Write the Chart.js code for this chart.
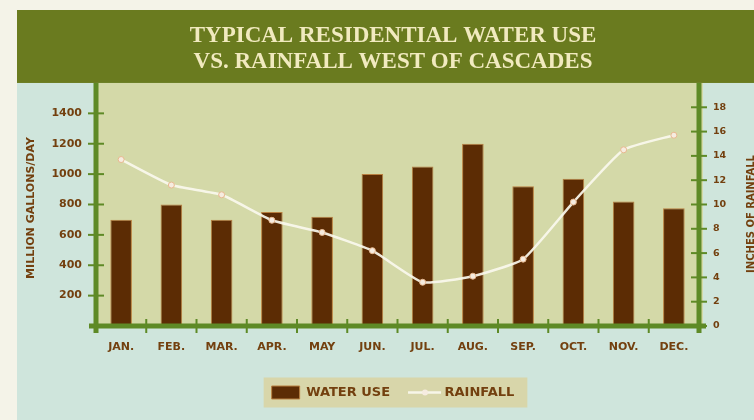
<!DOCTYPE html>
<html>
<head>
<meta charset="utf-8">
<script src="https://cdn.jsdelivr.net/npm/chart.js@4.4.1/dist/chart.umd.min.js"></script>
<style>
  html, body { margin: 0; padding: 0; background: #f4f3e8; }
  #c { display: block; }
</style>
</head>
<body>
<canvas id="c" width="754" height="420"></canvas>
<script>
const categories = ['JAN.', 'FEB.', 'MAR.', 'APR.', 'MAY', 'JUN.', 'JUL.', 'AUG.', 'SEP.', 'OCT.', 'NOV.', 'DEC.'];
const waterUse = [700, 800, 700, 750, 720, 1000, 1050, 1200, 920, 970, 820, 775];
const rainfall = [13.7, 11.6, 10.8, 8.7, 7.7, 6.2, 3.6, 4.1, 5.5, 10.2, 14.5, 15.7];
const waterTicks = [200, 400, 600, 800, 1000, 1200, 1400];
const rainTicks = [0, 2, 4, 6, 8, 10, 12, 14, 16, 18];
const titleLines = ['TYPICAL RESIDENTIAL WATER USE', 'VS. RAINFALL WEST OF CASCADES'];
const leftAxisTitle = 'MILLION GALLONS/DAY';
const rightAxisTitle = 'INCHES OF RAINFALL';
const seriesNames = ['WATER USE', 'RAINFALL'];

const C = {
  page: '#f4f3e8', band: '#6a7b1f', blue: '#cfe5dc', plot: '#d4d9a8',
  axis: '#5e8a26', bar: '#5c2c04', barEdge: '#b98040', text: '#73400f',
  title: '#f1eabf', line: 'rgba(250,248,238,0.92)', legendBg: '#d8d6aa'
};

const decor = {
  id: 'decor',
  beforeDraw(chart) {
    const ctx = chart.ctx, a = chart.chartArea, W = chart.width, H = chart.height;
    ctx.save();
    ctx.fillStyle = C.page; ctx.fillRect(0, 0, W, H);
    ctx.fillStyle = C.band; ctx.fillRect(17, 10, W - 17, a.top - 10);
    ctx.fillStyle = C.blue; ctx.fillRect(17, a.top, W - 17, H - a.top);
    ctx.fillStyle = C.plot; ctx.fillRect(a.left, a.top, a.right - a.left + 4, a.bottom - a.top);
    const hb = chart.legend && chart.legend.legendHitBoxes;
    if (hb && hb.length) {
      const first = hb[0], last = hb[hb.length - 1];
      const cy = first.top + first.height / 2;
      ctx.fillStyle = C.legendBg;
      ctx.fillRect(first.left - 8, cy - 15, last.left + last.width + 13 - (first.left - 8), 30);
    }
    ctx.restore();
  },
  afterDatasetsDraw(chart) {
    const ctx = chart.ctx, a = chart.chartArea;
    const y = chart.scales.y, y1 = chart.scales.y1;
    ctx.save();
    ctx.strokeStyle = C.axis;
    ctx.lineCap = 'butt';
    ctx.lineWidth = 2;
    y.ticks.forEach(t => { const py = y.getPixelForValue(t.value); ctx.beginPath(); ctx.moveTo(a.left - 8, py); ctx.lineTo(a.left + 8, py); ctx.stroke(); });
    y1.ticks.forEach(t => { const py = y1.getPixelForValue(t.value); ctx.beginPath(); ctx.moveTo(a.right - 8, py); ctx.lineTo(a.right + 8, py); ctx.stroke(); });
    const n = categories.length, step = (a.right - a.left) / n;
    for (let i = 1; i < n; i++) {
      const px = a.left + i * step;
      ctx.beginPath(); ctx.moveTo(px, a.bottom - 7); ctx.lineTo(px, a.bottom + 7); ctx.stroke();
    }
    ctx.lineWidth = 5;
    ctx.beginPath(); ctx.moveTo(a.left, a.top); ctx.lineTo(a.left, a.bottom + 7); ctx.stroke();
    ctx.beginPath(); ctx.moveTo(a.right, a.top); ctx.lineTo(a.right, a.bottom + 7); ctx.stroke();
    ctx.beginPath(); ctx.moveTo(a.left - 7, a.bottom); ctx.lineTo(a.right + 7, a.bottom); ctx.stroke();
    ctx.restore();
  },
  afterDraw(chart) {
    const ctx = chart.ctx;
    ctx.save();
    ctx.fillStyle = C.text;
    ctx.textAlign = 'center'; ctx.textBaseline = 'middle';
    ctx.font = 'bold 11px "DejaVu Sans"';
    ctx.translate(31, 208); ctx.rotate(-Math.PI / 2); ctx.fillText(leftAxisTitle, 0, 0);
    ctx.setTransform(1, 0, 0, 1, 0, 0);
    ctx.font = 'bold 10px "DejaVu Sans"';
    ctx.translate(751, 214); ctx.rotate(-Math.PI / 2); ctx.fillText(rightAxisTitle, 0, 0);
    ctx.setTransform(1, 0, 0, 1, 0, 0);
    const hb = chart.legend && chart.legend.legendHitBoxes;
    if (hb && hb.length > 1) {
      const b = hb[1], cy = b.top + b.height / 2;
      const bw = chart.legend.options.labels.boxWidth;
      ctx.strokeStyle = C.line; ctx.lineWidth = 2.5;
      ctx.beginPath(); ctx.moveTo(b.left - 2, cy); ctx.lineTo(b.left + bw + 3, cy); ctx.stroke();
      ctx.fillStyle = '#f6ece0';
      ctx.beginPath(); ctx.arc(b.left + bw / 2 + 1, cy, 3, 0, Math.PI * 2); ctx.fill();
    }
    ctx.restore();
  }
};

new Chart(document.getElementById('c'), {
  data: {
    labels: categories,
    datasets: [
      {
        type: 'line', label: seriesNames[1], data: rainfall, yAxisID: 'y1', order: 0,
        borderColor: C.line, borderWidth: 2.5, tension: 0.15,
        pointRadius: 3, pointBackgroundColor: '#f6ece0', pointBorderColor: '#e8b88f', pointBorderWidth: 1
      },
      {
        type: 'bar', label: seriesNames[0], data: waterUse, yAxisID: 'y', order: 1,
        backgroundColor: C.bar, borderColor: C.barEdge, borderWidth: 1,
        categoryPercentage: 1, barPercentage: 0.43
      }
    ]
  },
  options: {
    responsive: false, animation: false, devicePixelRatio: 1,
    layout: { padding: { left: 32, right: 0, top: 0, bottom: 11 } },
    plugins: {
      tooltip: { enabled: false },
      title: {
        display: true, text: titleLines, color: C.title,
        font: { family: '"Liberation Serif"', size: 23, weight: 'bold', lineHeight: 1.13 },
        padding: { top: 23, bottom: 8 }
      },
      legend: {
        position: 'bottom',
        labels: {
          font: { family: '"DejaVu Sans"', size: 13, weight: 'bold' },
          color: C.text, boxWidth: 28, boxHeight: 13, padding: 20,
          generateLabels() {
            return [
              { text: seriesNames[0], fillStyle: C.bar, strokeStyle: C.barEdge, lineWidth: 1, fontColor: C.text, datasetIndex: 1 },
              { text: seriesNames[1], fillStyle: 'rgba(0,0,0,0)', strokeStyle: 'rgba(0,0,0,0)', lineWidth: 0, fontColor: C.text, datasetIndex: 0 }
            ];
          }
        }
      }
    },
    scales: {
      x: {
        type: 'category', offset: true,
        grid: { display: false, drawTicks: false }, border: { display: false },
        ticks: { color: C.text, font: { family: '"DejaVu Sans"', size: 11, weight: 'bold' }, padding: 15, maxRotation: 0, autoSkip: false },
        afterFit(s) { s.height = 40; }
      },
      y: {
        type: 'linear', position: 'left', min: 0, max: 1600,
        grid: { display: false, drawTicks: false }, border: { display: false },
        ticks: { color: C.text, font: { family: '"DejaVu Sans"', size: 11, weight: 'bold' }, padding: 14, callback: v => String(v) },
        afterBuildTicks(s) { s.ticks = waterTicks.map(v => ({ value: v })); },
        afterFit(s) { s.width = 64; }
      },
      y1: {
        type: 'linear', position: 'right', min: 0, max: 20,
        grid: { display: false, drawTicks: false }, border: { display: false },
        ticks: { color: C.text, font: { family: '"DejaVu Sans"', size: 9.5, weight: 'bold' }, padding: 14, callback: v => String(v) },
        afterBuildTicks(s) { s.ticks = rainTicks.map(v => ({ value: v })); },
        afterFit(s) { s.width = 55; }
      }
    }
  },
  plugins: [decor]
});
</script>
</body>
</html>
